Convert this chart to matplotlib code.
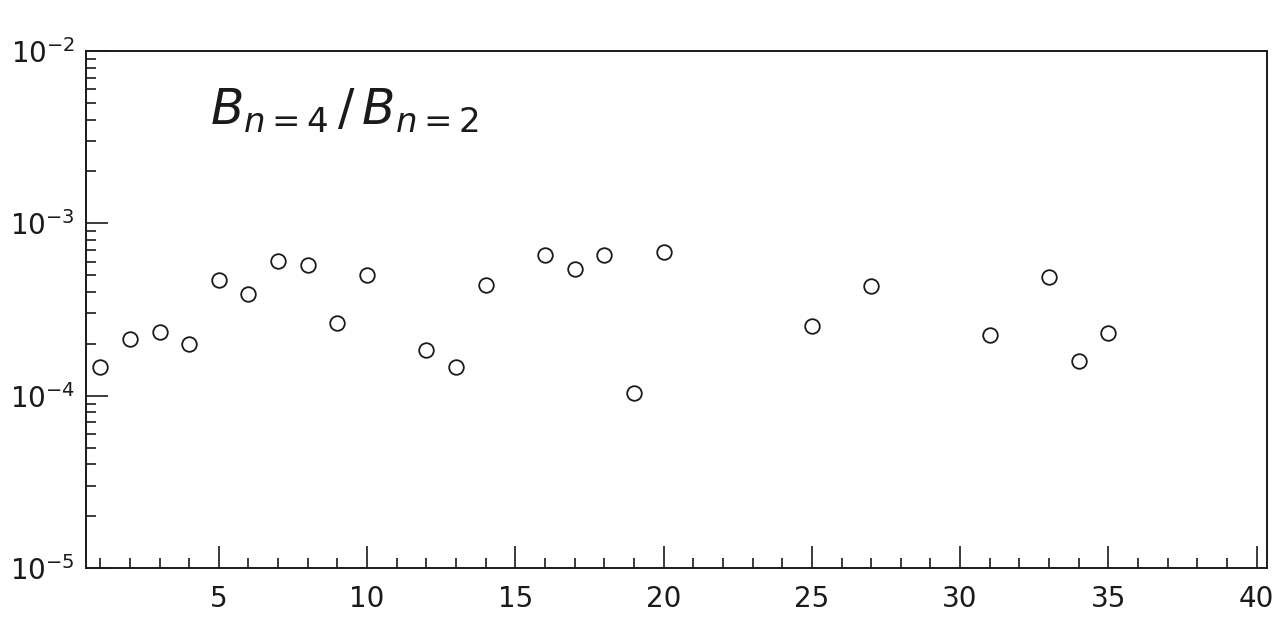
import matplotlib
matplotlib.use('Agg')
import matplotlib.pyplot as plt
from matplotlib.ticker import LogLocator, FixedLocator, NullFormatter

plt.rcParams['font.family'] = 'DejaVu Sans'
plt.rcParams['mathtext.fontset'] = 'dejavusans'

# harmonic ratio B(n=4)/B(n=2) per run
runs = [1, 2, 3, 4, 5, 6, 7, 8, 9, 10, 12, 13, 14, 16, 17, 18, 19, 20,
        25, 27, 31, 33, 34, 35]
ratio = [1.46e-4, 2.13e-4, 2.33e-4, 2.00e-4, 4.71e-4, 3.87e-4, 6.03e-4, 5.71e-4,
         2.63e-4, 5.04e-4, 1.83e-4, 1.46e-4, 4.41e-4, 6.58e-4, 5.41e-4, 6.58e-4,
         1.03e-4, 6.79e-4, 2.55e-4, 4.33e-4, 2.24e-4, 4.87e-4, 1.59e-4, 2.30e-4]
xticks_major = [5, 10, 15, 20, 25, 30, 35, 40]

INK = '#1a1a1a'
fig = plt.figure(figsize=(12.78, 6.2), dpi=100)
ax = fig.add_axes([0.0673, 0.0839, 0.9914 - 0.0673, 0.9177 - 0.0839])

ax.plot(runs, ratio, 'o', ms=10.5, mfc='none', mec=INK, mew=1.3)

ax.set_yscale('log')
ax.set_xlim(0.52, 40.35)
ax.set_ylim(1e-5, 1e-2)

ax.xaxis.set_major_locator(FixedLocator(xticks_major))
ax.xaxis.set_minor_locator(FixedLocator([i for i in range(1, 41) if i % 5]))
ax.yaxis.set_major_locator(LogLocator(base=10, numticks=10))
ax.yaxis.set_minor_locator(LogLocator(base=10, subs=range(2, 10), numticks=10))
ax.yaxis.set_minor_formatter(NullFormatter())

ax.tick_params(axis='both', which='both', direction='in', top=False, right=False,
               color=INK, labelcolor=INK)
ax.tick_params(axis='x', which='major', length=16, width=1.2, labelsize=20, pad=12)
ax.tick_params(axis='x', which='minor', length=7, width=1.2)
ax.tick_params(axis='y', which='major', length=16, width=1.2, labelsize=20, pad=8)
ax.tick_params(axis='y', which='minor', length=7, width=1.2)
for s in ax.spines.values():
    s.set_color(INK)
    s.set_linewidth(1.4)

ax.text(0.105, 0.885, r'$B_{n=4}\,/\,B_{n=2}$', transform=ax.transAxes,
        fontsize=35, color=INK, ha='left', va='center')

fig.savefig('out.png', dpi=100, facecolor='white')
